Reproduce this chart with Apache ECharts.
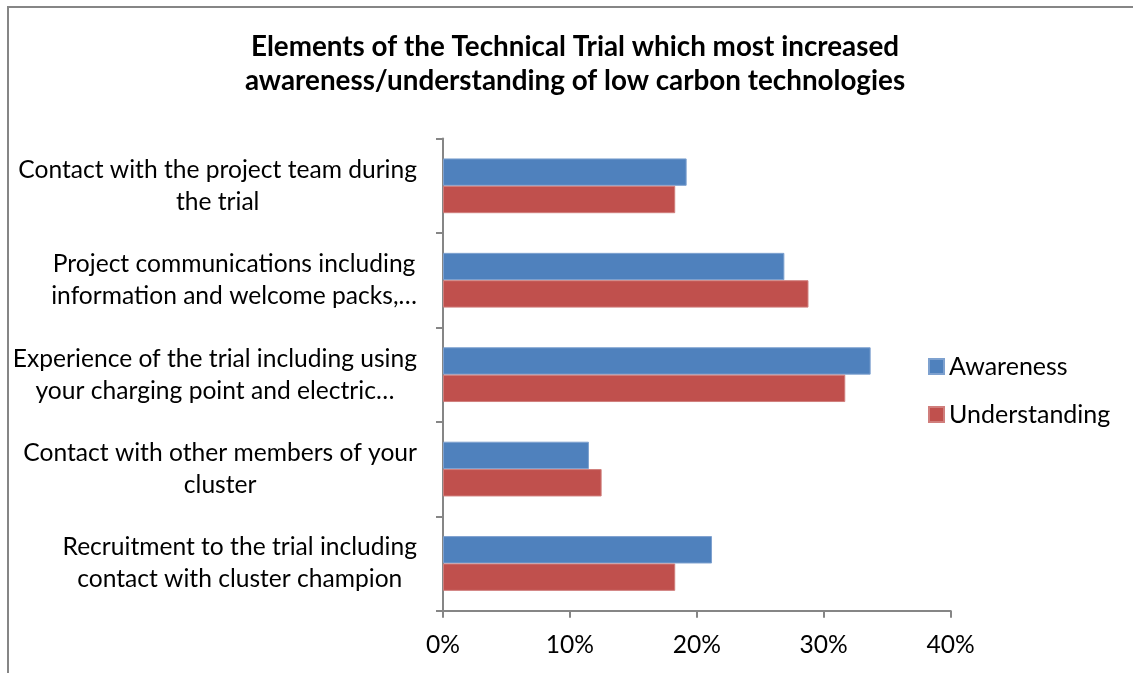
<!DOCTYPE html>
<html>
<head>
<meta charset="utf-8">
<script src="https://cdn.jsdelivr.net/npm/echarts@6/dist/echarts.min.js"></script>
<style>
html,body{margin:0;padding:0;background:#fff;}
#chart{width:1133px;height:673px;}
</style>
</head>
<body>
<div id="chart"></div>
<script>
// Categories, top to bottom as shown
const categories = [
  "Contact with the project team during\nthe trial",
  "Project communications including\ninformation and welcome packs,…",
  "Experience of the trial including using\nyour charging point and electric…",
  "Contact with other members of your\ncluster",
  "Recruitment to the trial including\ncontact with cluster champion"
];
const seriesNames = ["Awareness", "Understanding"];
const awareness = [19.2, 26.9, 33.7, 11.5, 21.2];
const understanding = [18.3, 28.8, 31.7, 12.5, 18.3];
const xTicks = [0, 10, 20, 30, 40];

const FONT = 'Lato';
const chart = echarts.init(document.getElementById('chart'), null, {renderer: 'canvas'});
chart.setOption({
  backgroundColor: '#ffffff',
  animation: false,
  title: {
    text: 'Elements of the Technical Trial which most increased\nawareness/understanding of low carbon technologies',
    left: 575,
    textAlign: 'center',
    top: 30,
    padding: 0,
    textStyle: {fontFamily: FONT, fontSize: 27.8, fontWeight: 'bold', color: '#000', lineHeight: 34}
  },
  graphic: [{
    type: 'rect',
    shape: {x: 8, y: 7, width: 1300, height: 800},
    style: {fill: 'none', stroke: '#868686', lineWidth: 2},
    silent: true
  }],
  legend: {
    orient: 'vertical',
    left: 928,
    top: 354,
    padding: 0,
    itemWidth: 15,
    itemHeight: 15,
    itemGap: 23,
    icon: 'rect',
    data: seriesNames,
    textStyle: {fontFamily: FONT, fontSize: 25, color: '#000', lineHeight: 24}
  },
  grid: {left: 443, right: 182.4, top: 138.6, bottom: 62.3, containLabel: false},
  xAxis: {
    type: 'value',
    min: xTicks[0],
    max: xTicks[xTicks.length - 1],
    interval: 10,
    axisLine: {show: true, lineStyle: {color: '#868686', width: 2}},
    axisTick: {show: true, length: 7, lineStyle: {color: '#868686', width: 2}},
    splitLine: {show: false},
    axisLabel: {formatter: '{value}%', margin: 22, fontFamily: FONT, fontSize: 24.6, color: '#000'}
  },
  yAxis: {
    type: 'category',
    inverse: true,
    data: categories,
    axisLine: {show: true, lineStyle: {color: '#868686', width: 2}},
    axisTick: {show: true, length: 7, alignWithLabel: false, lineStyle: {color: '#868686', width: 2}},
    axisLabel: {
      margin: 26,
      align: 'right',
      fontFamily: FONT,
      fontSize: 24.6,
      color: '#000',
      lineHeight: 32,
      formatter: function (v) {
        return v.split('\n').map(function (s) { return '{c|' + s + '}'; }).join('\n');
      },
      rich: {c: {align: 'center', fontFamily: FONT, fontSize: 24.6, color: '#000', lineHeight: 32}}
    }
  },
  series: [
    {
      name: seriesNames[0], type: 'bar', data: awareness,
      barCategoryGap: '42%', barGap: '0%',
      itemStyle: {color: '#4F81BD', borderColor: '#7EA1CF', borderWidth: 1}
    },
    {
      name: seriesNames[1], type: 'bar', data: understanding,
      barCategoryGap: '42%', barGap: '0%',
      itemStyle: {color: '#C0504D', borderColor: '#D07E7C', borderWidth: 1}
    }
  ]
});
</script>
</body>
</html>
